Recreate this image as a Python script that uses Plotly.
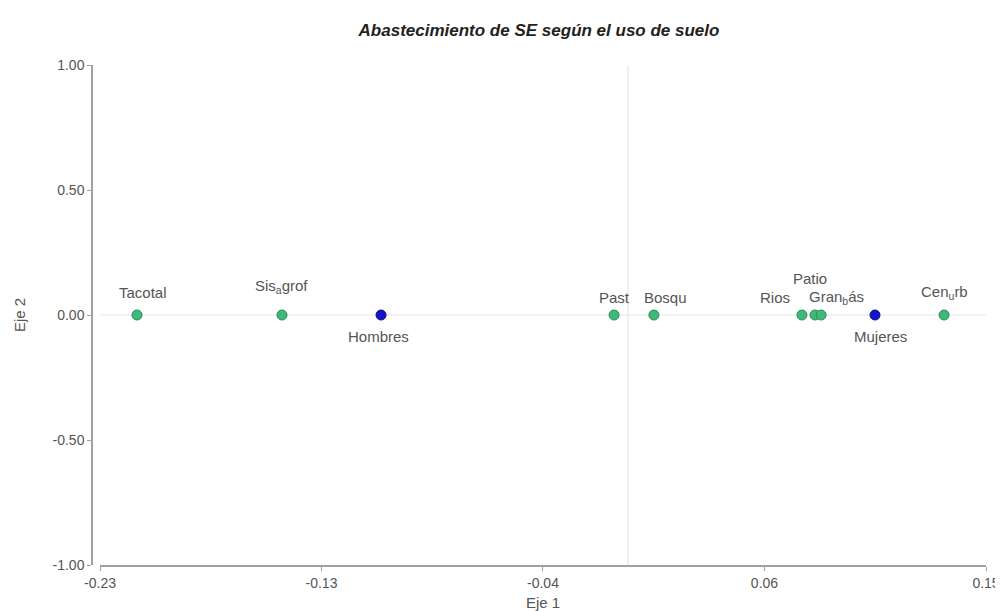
import plotly.graph_objects as go

# Data
labels = ["Tacotal", "Sis<sub>a</sub>grof", "Past", "Bosqu", "Rios", "Patio", "Gran<sub>b</sub>ás", "Cen<sub>u</sub>rb"]
eje1 = [-0.2096, -0.1477, -0.0059, 0.0111, 0.0743, 0.0799, 0.0825, 0.1350]
eje2 = [0.0, 0.0, 0.0, 0.0, 0.0, 0.0, 0.0, 0.0]

grp_labels = ["Hombres", "Mujeres"]
grp_eje1 = [-0.1054, 0.1055]
grp_eje2 = [0.0, 0.0]

x_min, x_max = -0.2254, 0.1529
x_ticks = [-0.2254, -0.13083, -0.03626, 0.05832, 0.1529]
x_ticktext = ["-0.23", "-0.13", "-0.04", "0.06", "0.15"]
y_ticks = [-1.0, -0.5, 0.0, 0.5, 1.0]
y_ticktext = ["-1.00", "-0.50", "0.00", "0.50", "1.00"]

# label placement styles (offsets in pixels)
lab_xshift = [6, 0, 0, 12, -27, -5, 15, 0]
lab_yshift = [23, 29, 18, 18, 18, 37, 18, 23]
grp_xshift = [-3, 6]
grp_yshift = [-21, -21]

FONT = "Liberation Sans, Arial, sans-serif"

fig = go.Figure()
fig.add_trace(go.Scatter(
    x=eje1, y=eje2, mode="markers",
    marker=dict(size=10, color="#3dba7a", line=dict(color="#2a8a55", width=1)),
    hoverinfo="skip", showlegend=False))
fig.add_trace(go.Scatter(
    x=grp_eje1, y=grp_eje2, mode="markers",
    marker=dict(size=10, color="#1414c8", line=dict(color="#0c0c8a", width=1)),
    hoverinfo="skip", showlegend=False))

font_lab = dict(family=FONT, size=15, color="#555555")
annotations = []
for t, x, y, dx, dy in zip(labels, eje1, eje2, lab_xshift, lab_yshift):
    annotations.append(dict(x=x, y=y, text=t, showarrow=False, xshift=dx, yshift=dy, font=font_lab))
for t, x, y, dx, dy in zip(grp_labels, grp_eje1, grp_eje2, grp_xshift, grp_yshift):
    annotations.append(dict(x=x, y=y, text=t, showarrow=False, xshift=dx, yshift=dy, font=font_lab))

fig.update_layout(
    width=1003, height=611,
    paper_bgcolor="white", plot_bgcolor="white",
    margin=dict(l=84, r=25, t=57, b=54),
    title=dict(text="<i><b>Abastecimiento de SE según el uso de suelo</b></i>",
               x=0.5, xref="paper", xanchor="center", y=1 - 22 / 611, yanchor="middle",
               font=dict(family=FONT, size=17, color="#222222")),
    annotations=annotations,
    shapes=[
        dict(type="line", xref="x", yref="y", x0=x_min, x1=x_max, y0=0, y1=0,
             line=dict(color="#e6e6e6", width=1.2), layer="below"),
        dict(type="line", xref="x", yref="y", x0=0, x1=0, y0=-1, y1=1,
             line=dict(color="#e6e6e6", width=1.2), layer="below"),
    ],
    xaxis=dict(range=[x_min, x_max], tickvals=x_ticks, ticktext=x_ticktext,
               domain=[8 / 894, 1], automargin=False,
               showgrid=False, zeroline=False, showline=True, linecolor="#a0a0a0", linewidth=1.5,
               ticks="outside", ticklen=4, tickcolor="#a0a0a0",
               tickfont=dict(family=FONT, size=14, color="#555555"),
               title=dict(text="Eje 1", standoff=8,
                          font=dict(family=FONT, size=15, color="#555555"))),
    yaxis=dict(range=[-1, 1], tickvals=y_ticks, ticktext=y_ticktext,
               anchor="free", position=0, automargin=False,
               showgrid=False, zeroline=False, showline=True, linecolor="#a0a0a0", linewidth=1.5,
               ticks="outside", ticklen=4, tickcolor="#a0a0a0",
               tickfont=dict(family=FONT, size=14, color="#555555"),
               title=dict(text="Eje 2", standoff=22,
                          font=dict(family=FONT, size=15, color="#555555"))),
)

fig.write_html("out.html")
